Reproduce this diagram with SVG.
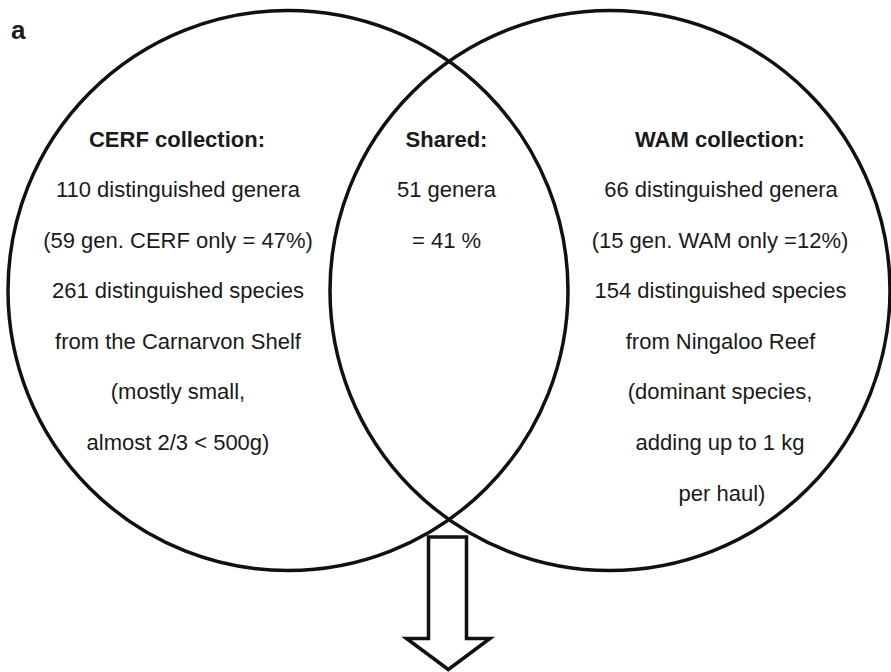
<svg xmlns="http://www.w3.org/2000/svg" width="891" height="672" viewBox="0 0 891 672">
  <style>
    .ring { fill: none; stroke: #111; stroke-width: 3.5; }
    .arrow { fill: #fff; stroke: #111; stroke-width: 3.5; stroke-linejoin: miter; }
    text { font-family: "Liberation Sans", Arial, Helvetica, sans-serif; font-size: 22px; fill: #1a1a1a; text-anchor: middle; }
    .head { font-weight: bold; }
    .panel { font-weight: bold; font-size: 26px; text-anchor: start; }
  </style>
  <rect width="891" height="672" fill="#fff"/>
  <text class="panel" x="11" y="39">a</text>

  <g id="cerf">
    <circle class="ring" cx="288" cy="290.5" r="280"/>
    <text class="head" x="177" y="147">CERF collection:</text>
    <text x="178" y="197">110 distinguished genera</text>
    <text x="178" y="248">(59 gen. CERF only = 47%)</text>
    <text x="178" y="298">261 distinguished species</text>
    <text x="178" y="349">from the Carnarvon Shelf</text>
    <text x="178" y="399">(mostly small,</text>
    <text x="178" y="450">almost 2/3 &lt; 500g)</text>
  </g>

  <g id="wam">
    <circle class="ring" cx="610" cy="290.5" r="280"/>
    <text class="head" x="720" y="147">WAM collection:</text>
    <text x="721" y="197">66 distinguished genera</text>
    <text x="720" y="248">(15 gen. WAM only =12%)</text>
    <text x="720.5" y="298">154 distinguished species</text>
    <text x="720.5" y="349">from Ningaloo Reef</text>
    <text x="720" y="399">(dominant species,</text>
    <text x="720" y="450">adding up to 1 kg</text>
    <text x="722" y="501">per haul)</text>
  </g>

  <g id="shared">
    <text class="head" x="446.5" y="147">Shared:</text>
    <text x="446.5" y="197">51 genera</text>
    <text x="446.5" y="248">= 41 %</text>
  </g>

  <g id="connectors">
    <polygon class="arrow" points="428.5,537 466.5,537 466.5,638.5 490,638.5 448.3,669.5 406.5,638.5 428.5,638.5"/>
  </g>
</svg>
